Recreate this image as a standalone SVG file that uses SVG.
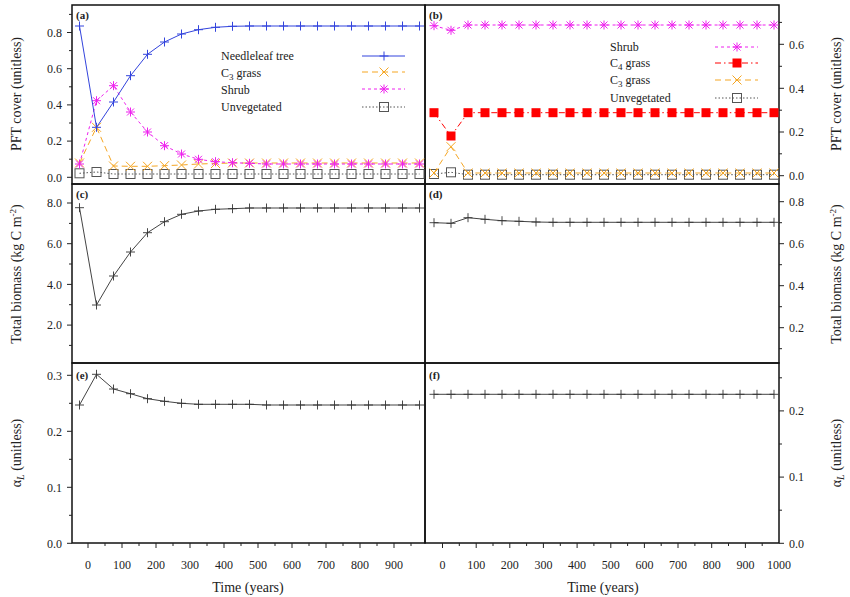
<svg xmlns="http://www.w3.org/2000/svg" width="850" height="597" viewBox="0 0 850 597" font-family="'Liberation Serif', 'Times New Roman', serif">
<style>
text{font-family:'Liberation Serif','Times New Roman',serif;fill:#222}
.tl{font-size:12px}
.ti{font-size:14px}
.pl{font-size:11px;font-weight:bold}
.fr{fill:none;stroke:#111;stroke-width:1.5}
.tk{stroke:#222;stroke-width:1}
.k{fill:none;stroke:#444;stroke-width:1}
.nl{fill:none;stroke:#3344dd;stroke-width:1}
.c3{fill:none;stroke:#f5a623;stroke-width:1;stroke-dasharray:6 4}
.sh{fill:none;stroke:#ee22ee;stroke-width:1;stroke-dasharray:3 3}
.uv{fill:none;stroke:#555;stroke-width:1;stroke-dasharray:1.5 2}
.c4{fill:none;stroke:#ff0000;stroke-width:1;stroke-dasharray:6 3 1.5 3}
</style>
<defs>
<path id="pk" d="M-4.5,0H4.5M0,-4.5V4.5" stroke="#333" stroke-width="0.9" fill="none"/>
<path id="pb" d="M-4.5,0H4.5M0,-4.5V4.5" stroke="#3344dd" stroke-width="1" fill="none"/>
<path id="xo" d="M-4.5,-4.5L4.5,4.5M-4.5,4.5L4.5,-4.5" stroke="#f5a623" stroke-width="1" fill="none"/>
<path id="st" d="M-4.5,0H4.5M0,-4.5V4.5M-3.5,-3.5L3.5,3.5M-3.5,3.5L3.5,-3.5" stroke="#ee22ee" stroke-width="1" fill="none"/>
<rect id="sq" x="-4.5" y="-4.5" width="9" height="9" stroke="#555" stroke-width="1" fill="none"/>
<rect id="rs" x="-4.5" y="-4.5" width="9" height="9" fill="#ff0000"/>
</defs>
<rect width="850" height="597" fill="#fff"/>

<g id="frames">
<rect class="fr" x="72" y="5" width="353" height="179"/>
<rect class="fr" x="425" y="5" width="354" height="179"/>
<rect class="fr" x="72" y="184" width="353" height="179"/>
<rect class="fr" x="425" y="184" width="354" height="179"/>
<rect class="fr" x="72" y="363" width="353" height="180"/>
<rect class="fr" x="425" y="363" width="354" height="180"/>
</g>

<g id="ticks" class="tk">
<path d="M67,177.3H72M69,159.2H72M67,141.1H72M69,123H72M67,104.9H72M69,86.8H72M67,68.7H72M69,50.6H72M67,32.5H72M69,14.4H72"/>
<path d="M779,175.7H784M779,153.8H782M779,132H784M779,110.2H782M779,88.3H784M779,66.3H782M779,44.3H784M779,22.4H782"/>
<path d="M67,203H72M69,223.4H72M67,243.7H72M69,264H72M67,284.4H72M69,304.7H72M67,325.1H72M69,345.4H72"/>
<path d="M779,201.7H784M779,222.7H782M779,243.7H784M779,264.7H782M779,285.7H784M779,306.7H782M779,327.7H784M779,348.7H782"/>
<path d="M67,543.3H72M69,515.3H72M67,487.3H72M69,459.3H72M67,431.3H72M69,403.3H72M67,375.3H72"/>
<path d="M779,543.3H784M779,510.2H782M779,477.1H784M779,444H782M779,410.9H784M779,377.8H782"/>
<path d="M88,543V548M105,543V546M122,543V548M139,543V546M156,543V548M173,543V546M190,543V548M207,543V546M224,543V548M241,543V546M258,543V548M275,543V546M292,543V548M309,543V546M326,543V548M343,543V546M360,543V548M377,543V546M394,543V548M411,543V546"/>
<path d="M442.5,543V548M459.3,543V546M476.2,543V548M493,543V546M509.8,543V548M526.6,543V546M543.4,543V548M560.3,543V546M577.1,543V548M593.9,543V546M610.8,543V548M627.6,543V546M644.4,543V548M661.2,543V546M678,543V548M694.9,543V546M711.7,543V548M728.5,543V546M745.4,543V548M762.2,543V546"/>
</g>

<g id="tick-labels" class="tl">
<g text-anchor="end">
<text x="62" y="181.5">0.0</text><text x="62" y="145.3">0.2</text><text x="62" y="109.1">0.4</text><text x="62" y="72.9">0.6</text><text x="62" y="36.7">0.8</text>
<text x="62" y="207.2">8.0</text><text x="62" y="247.9">6.0</text><text x="62" y="288.6">4.0</text><text x="62" y="329.3">2.0</text>
<text x="62" y="547.5">0.0</text><text x="62" y="491.5">0.1</text><text x="62" y="435.5">0.2</text><text x="62" y="379.5">0.3</text>
</g>
<g text-anchor="start">
<text x="789" y="179.9">0.0</text><text x="789" y="136.2">0.2</text><text x="789" y="92.5">0.4</text><text x="789" y="48.5">0.6</text>
<text x="789" y="205.9">0.8</text><text x="789" y="247.9">0.6</text><text x="789" y="289.9">0.4</text><text x="789" y="331.9">0.2</text>
<text x="789" y="547.5">0.0</text><text x="789" y="481.3">0.1</text><text x="789" y="415.1">0.2</text>
</g>
<g text-anchor="middle">
<text x="88" y="569">0</text><text x="122" y="569">100</text><text x="156" y="569">200</text><text x="190" y="569">300</text><text x="224" y="569">400</text><text x="258" y="569">500</text><text x="292" y="569">600</text><text x="326" y="569">700</text><text x="360" y="569">800</text><text x="394" y="569">900</text>
<text x="442.5" y="569">0</text><text x="476.2" y="569">100</text><text x="509.8" y="569">200</text><text x="543.4" y="569">300</text><text x="577.1" y="569">400</text><text x="610.8" y="569">500</text><text x="644.4" y="569">600</text><text x="678" y="569">700</text><text x="711.7" y="569">800</text><text x="745.4" y="569">900</text><text x="779" y="569">1000</text>
</g>
</g>

<g id="axis-titles" class="ti" text-anchor="middle">
<text x="248" y="592">Time (years)</text>
<text x="603" y="592">Time (years)</text>
<text transform="translate(21,94) rotate(-90)">PFT cover (unitless)</text>
<text transform="translate(841,94) rotate(-90)">PFT cover (unitless)</text>
<text transform="translate(21,274) rotate(-90)">Total biomass (kg C m<tspan dy="-5" font-size="9">-2</tspan><tspan dy="5">)</tspan></text>
<text transform="translate(841,274) rotate(-90)">Total biomass (kg C m<tspan dy="-5" font-size="9">-2</tspan><tspan dy="5">)</tspan></text>
<text transform="translate(21,453) rotate(-90)">α<tspan dy="3" font-size="10" font-style="italic">L</tspan><tspan dy="-3"> (unitless)</tspan></text>
<text transform="translate(841,453) rotate(-90)">α<tspan dy="3" font-size="10" font-style="italic">L</tspan><tspan dy="-3"> (unitless)</tspan></text>
</g>

<g id="panel-labels" class="pl">
<text x="76" y="19">(a)</text><text x="429" y="19">(b)</text>
<text x="76" y="198">(c)</text><text x="429" y="198">(d)</text>
<text x="76" y="379">(e)</text><text x="429" y="379">(f)</text>
</g>

<g id="panel-a">
<polyline class="uv" points="79.5,173.3 96.5,172 113.5,174 130.5,174 147.5,174 164.5,174 181.5,174 198.5,174 215.5,174 232.5,174 249.5,174 266.5,174 283.5,174 300.5,174 317.5,174 334.5,174 351.5,174 368.5,174 385.5,174 402.5,174 419.5,174"/>
<g><use href="#sq" x="79.5" y="173.3"/><use href="#sq" x="96.5" y="172"/><use href="#sq" x="113.5" y="174"/><use href="#sq" x="130.5" y="174"/><use href="#sq" x="147.5" y="174"/><use href="#sq" x="164.5" y="174"/><use href="#sq" x="181.5" y="174"/><use href="#sq" x="198.5" y="174"/><use href="#sq" x="215.5" y="174"/><use href="#sq" x="232.5" y="174"/><use href="#sq" x="249.5" y="174"/><use href="#sq" x="266.5" y="174"/><use href="#sq" x="283.5" y="174"/><use href="#sq" x="300.5" y="174"/><use href="#sq" x="317.5" y="174"/><use href="#sq" x="334.5" y="174"/><use href="#sq" x="351.5" y="174"/><use href="#sq" x="368.5" y="174"/><use href="#sq" x="385.5" y="174"/><use href="#sq" x="402.5" y="174"/><use href="#sq" x="419.5" y="174"/></g>
<polyline class="c3" points="79.5,163 96.5,127.3 113.5,166 130.5,166.3 147.5,166.3 164.5,165.7 181.5,165 198.5,164 215.5,163.5 232.5,163 249.5,163 266.5,163 283.5,163 300.5,163 317.5,163 334.5,163 351.5,163 368.5,163 385.5,163 402.5,163 419.5,163"/>
<g><use href="#xo" x="79.5" y="163"/><use href="#xo" x="96.5" y="127.3"/><use href="#xo" x="113.5" y="166"/><use href="#xo" x="130.5" y="166.3"/><use href="#xo" x="147.5" y="166.3"/><use href="#xo" x="164.5" y="165.7"/><use href="#xo" x="181.5" y="165"/><use href="#xo" x="198.5" y="164"/><use href="#xo" x="215.5" y="163.5"/><use href="#xo" x="232.5" y="163"/><use href="#xo" x="249.5" y="163"/><use href="#xo" x="266.5" y="163"/><use href="#xo" x="283.5" y="163"/><use href="#xo" x="300.5" y="163"/><use href="#xo" x="317.5" y="163"/><use href="#xo" x="334.5" y="163"/><use href="#xo" x="351.5" y="163"/><use href="#xo" x="368.5" y="163"/><use href="#xo" x="385.5" y="163"/><use href="#xo" x="402.5" y="163"/><use href="#xo" x="419.5" y="163"/></g>
<polyline class="sh" points="79.5,164 96.5,100.7 113.5,85.7 130.5,112 147.5,132 164.5,145.7 181.5,154 198.5,159.3 215.5,161.7 232.5,162.7 249.5,163.3 266.5,164 283.5,164 300.5,164 317.5,164 334.5,164 351.5,164 368.5,164 385.5,164 402.5,164 419.5,164"/>
<g><use href="#st" x="79.5" y="164"/><use href="#st" x="96.5" y="100.7"/><use href="#st" x="113.5" y="85.7"/><use href="#st" x="130.5" y="112"/><use href="#st" x="147.5" y="132"/><use href="#st" x="164.5" y="145.7"/><use href="#st" x="181.5" y="154"/><use href="#st" x="198.5" y="159.3"/><use href="#st" x="215.5" y="161.7"/><use href="#st" x="232.5" y="162.7"/><use href="#st" x="249.5" y="163.3"/><use href="#st" x="266.5" y="164"/><use href="#st" x="283.5" y="164"/><use href="#st" x="300.5" y="164"/><use href="#st" x="317.5" y="164"/><use href="#st" x="334.5" y="164"/><use href="#st" x="351.5" y="164"/><use href="#st" x="368.5" y="164"/><use href="#st" x="385.5" y="164"/><use href="#st" x="402.5" y="164"/><use href="#st" x="419.5" y="164"/></g>
<polyline class="nl" points="79.5,26 96.5,127.3 113.5,102 130.5,75.7 147.5,54.3 164.5,42 181.5,34 198.5,29.7 215.5,27.3 232.5,26.3 249.5,26 266.5,26 283.5,26 300.5,26 317.5,26 334.5,26 351.5,26 368.5,26 385.5,26 402.5,26 419.5,26"/>
<g><use href="#pb" x="79.5" y="26"/><use href="#pb" x="96.5" y="127.3"/><use href="#pb" x="113.5" y="102"/><use href="#pb" x="130.5" y="75.7"/><use href="#pb" x="147.5" y="54.3"/><use href="#pb" x="164.5" y="42"/><use href="#pb" x="181.5" y="34"/><use href="#pb" x="198.5" y="29.7"/><use href="#pb" x="215.5" y="27.3"/><use href="#pb" x="232.5" y="26.3"/><use href="#pb" x="249.5" y="26"/><use href="#pb" x="266.5" y="26"/><use href="#pb" x="283.5" y="26"/><use href="#pb" x="300.5" y="26"/><use href="#pb" x="317.5" y="26"/><use href="#pb" x="334.5" y="26"/><use href="#pb" x="351.5" y="26"/><use href="#pb" x="368.5" y="26"/><use href="#pb" x="385.5" y="26"/><use href="#pb" x="402.5" y="26"/><use href="#pb" x="419.5" y="26"/></g>
<g id="legend-a" class="tl">
<text x="221" y="60">Needleleaf tree</text>
<text x="221" y="77">C<tspan dy="3" font-size="9">3</tspan><tspan dy="-3"> grass</tspan></text>
<text x="221" y="94">Shrub</text>
<text x="221" y="111">Unvegetated</text>
<line class="nl" x1="362" y1="56" x2="405" y2="56"/><use href="#pb" x="384" y="56"/>
<line class="c3" x1="362" y1="72" x2="405" y2="72"/><use href="#xo" x="384" y="72"/>
<line class="sh" x1="362" y1="89" x2="405" y2="89"/><use href="#st" x="384" y="89"/>
<line class="uv" x1="362" y1="107" x2="405" y2="107"/><use href="#sq" x="384" y="107"/>
</g>
</g>

<g id="panel-b">
<polyline class="uv" points="434,174 451,172.3 468,174.7 485,174.7 502,174.7 519,174.7 536,174.7 553,174.7 570,174.7 587,174.7 604,174.7 621,174.7 638,174.7 655,174.7 672,174.7 689,174.7 706,174.7 723,174.7 740,174.7 757,174.7 774,174.7"/>
<g><use href="#sq" x="434" y="174"/><use href="#sq" x="451" y="172.3"/><use href="#sq" x="468" y="174.7"/><use href="#sq" x="485" y="174.7"/><use href="#sq" x="502" y="174.7"/><use href="#sq" x="519" y="174.7"/><use href="#sq" x="536" y="174.7"/><use href="#sq" x="553" y="174.7"/><use href="#sq" x="570" y="174.7"/><use href="#sq" x="587" y="174.7"/><use href="#sq" x="604" y="174.7"/><use href="#sq" x="621" y="174.7"/><use href="#sq" x="638" y="174.7"/><use href="#sq" x="655" y="174.7"/><use href="#sq" x="672" y="174.7"/><use href="#sq" x="689" y="174.7"/><use href="#sq" x="706" y="174.7"/><use href="#sq" x="723" y="174.7"/><use href="#sq" x="740" y="174.7"/><use href="#sq" x="757" y="174.7"/><use href="#sq" x="774" y="174.7"/></g>
<polyline class="c3" points="434,173 451,146.7 468,173 485,173 502,173 519,173 536,173 553,173 570,173 587,173 604,173 621,173 638,173 655,173 672,173 689,173 706,173 723,173 740,173 757,173 774,173"/>
<g><use href="#xo" x="434" y="173"/><use href="#xo" x="451" y="146.7"/><use href="#xo" x="468" y="173"/><use href="#xo" x="485" y="173"/><use href="#xo" x="502" y="173"/><use href="#xo" x="519" y="173"/><use href="#xo" x="536" y="173"/><use href="#xo" x="553" y="173"/><use href="#xo" x="570" y="173"/><use href="#xo" x="587" y="173"/><use href="#xo" x="604" y="173"/><use href="#xo" x="621" y="173"/><use href="#xo" x="638" y="173"/><use href="#xo" x="655" y="173"/><use href="#xo" x="672" y="173"/><use href="#xo" x="689" y="173"/><use href="#xo" x="706" y="173"/><use href="#xo" x="723" y="173"/><use href="#xo" x="740" y="173"/><use href="#xo" x="757" y="173"/><use href="#xo" x="774" y="173"/></g>
<polyline class="c4" points="434,112.7 451,136 468,112.7 485,112.7 502,112.7 519,112.7 536,112.7 553,112.7 570,112.7 587,112.7 604,112.7 621,112.7 638,112.7 655,112.7 672,112.7 689,112.7 706,112.7 723,112.7 740,112.7 757,112.7 774,112.7"/>
<g><use href="#rs" x="434" y="112.7"/><use href="#rs" x="451" y="136"/><use href="#rs" x="468" y="112.7"/><use href="#rs" x="485" y="112.7"/><use href="#rs" x="502" y="112.7"/><use href="#rs" x="519" y="112.7"/><use href="#rs" x="536" y="112.7"/><use href="#rs" x="553" y="112.7"/><use href="#rs" x="570" y="112.7"/><use href="#rs" x="587" y="112.7"/><use href="#rs" x="604" y="112.7"/><use href="#rs" x="621" y="112.7"/><use href="#rs" x="638" y="112.7"/><use href="#rs" x="655" y="112.7"/><use href="#rs" x="672" y="112.7"/><use href="#rs" x="689" y="112.7"/><use href="#rs" x="706" y="112.7"/><use href="#rs" x="723" y="112.7"/><use href="#rs" x="740" y="112.7"/><use href="#rs" x="757" y="112.7"/><use href="#rs" x="774" y="112.7"/></g>
<polyline class="sh" points="434,25.7 451,30.3 468,25 485,25 502,25 519,25 536,25 553,25 570,25 587,25 604,25 621,25 638,25 655,25 672,25 689,25 706,25 723,25 740,25 757,25 774,25"/>
<g><use href="#st" x="434" y="25.7"/><use href="#st" x="451" y="30.3"/><use href="#st" x="468" y="25"/><use href="#st" x="485" y="25"/><use href="#st" x="502" y="25"/><use href="#st" x="519" y="25"/><use href="#st" x="536" y="25"/><use href="#st" x="553" y="25"/><use href="#st" x="570" y="25"/><use href="#st" x="587" y="25"/><use href="#st" x="604" y="25"/><use href="#st" x="621" y="25"/><use href="#st" x="638" y="25"/><use href="#st" x="655" y="25"/><use href="#st" x="672" y="25"/><use href="#st" x="689" y="25"/><use href="#st" x="706" y="25"/><use href="#st" x="723" y="25"/><use href="#st" x="740" y="25"/><use href="#st" x="757" y="25"/><use href="#st" x="774" y="25"/></g>
<g id="legend-b" class="tl">
<text x="610" y="51">Shrub</text>
<text x="610" y="67">C<tspan dy="3" font-size="9">4</tspan><tspan dy="-3"> grass</tspan></text>
<text x="610" y="84">C<tspan dy="3" font-size="9">3</tspan><tspan dy="-3"> grass</tspan></text>
<text x="610" y="102">Unvegetated</text>
<line class="sh" x1="715" y1="47" x2="758" y2="47"/><use href="#st" x="737" y="47"/>
<line class="c4" x1="715" y1="63" x2="758" y2="63"/><use href="#rs" x="737" y="63"/>
<line class="c3" x1="715" y1="80" x2="758" y2="80"/><use href="#xo" x="737" y="80"/>
<line class="uv" x1="715" y1="98" x2="758" y2="98"/><use href="#sq" x="737" y="98"/>
</g>
</g>

<g id="panel-c">
<polyline class="k" points="79.5,207.7 96.5,305 113.5,276 130.5,252 147.5,232.7 164.5,221.7 181.5,214.3 198.5,211 215.5,209.3 232.5,208.7 249.5,208 266.5,208 283.5,208 300.5,208 317.5,208 334.5,208 351.5,208 368.5,208 385.5,208 402.5,208 419.5,208"/>
<g><use href="#pk" x="79.5" y="207.7"/><use href="#pk" x="96.5" y="305"/><use href="#pk" x="113.5" y="276"/><use href="#pk" x="130.5" y="252"/><use href="#pk" x="147.5" y="232.7"/><use href="#pk" x="164.5" y="221.7"/><use href="#pk" x="181.5" y="214.3"/><use href="#pk" x="198.5" y="211"/><use href="#pk" x="215.5" y="209.3"/><use href="#pk" x="232.5" y="208.7"/><use href="#pk" x="249.5" y="208"/><use href="#pk" x="266.5" y="208"/><use href="#pk" x="283.5" y="208"/><use href="#pk" x="300.5" y="208"/><use href="#pk" x="317.5" y="208"/><use href="#pk" x="334.5" y="208"/><use href="#pk" x="351.5" y="208"/><use href="#pk" x="368.5" y="208"/><use href="#pk" x="385.5" y="208"/><use href="#pk" x="402.5" y="208"/><use href="#pk" x="419.5" y="208"/></g>
</g>

<g id="panel-d">
<polyline class="k" points="434,222.7 451,223.3 468,217.7 485,219.3 502,220.7 519,221.3 536,222 553,222.3 570,222.3 587,222.3 604,222.3 621,222.3 638,222.3 655,222.3 672,222.3 689,222.3 706,222.3 723,222.3 740,222.3 757,222.3 774,222.3"/>
<g><use href="#pk" x="434" y="222.7"/><use href="#pk" x="451" y="223.3"/><use href="#pk" x="468" y="217.7"/><use href="#pk" x="485" y="219.3"/><use href="#pk" x="502" y="220.7"/><use href="#pk" x="519" y="221.3"/><use href="#pk" x="536" y="222"/><use href="#pk" x="553" y="222.3"/><use href="#pk" x="570" y="222.3"/><use href="#pk" x="587" y="222.3"/><use href="#pk" x="604" y="222.3"/><use href="#pk" x="621" y="222.3"/><use href="#pk" x="638" y="222.3"/><use href="#pk" x="655" y="222.3"/><use href="#pk" x="672" y="222.3"/><use href="#pk" x="689" y="222.3"/><use href="#pk" x="706" y="222.3"/><use href="#pk" x="723" y="222.3"/><use href="#pk" x="740" y="222.3"/><use href="#pk" x="757" y="222.3"/><use href="#pk" x="774" y="222.3"/></g>
</g>

<g id="panel-e">
<polyline class="k" points="79.5,405 96.5,374.3 113.5,389 130.5,393.7 147.5,398.7 164.5,401.3 181.5,403.3 198.5,404.3 215.5,404.3 232.5,404.3 249.5,404.3 266.5,405 283.5,405 300.5,405 317.5,405 334.5,405 351.5,405 368.5,405 385.5,405 402.5,405 419.5,405"/>
<g><use href="#pk" x="79.5" y="405"/><use href="#pk" x="96.5" y="374.3"/><use href="#pk" x="113.5" y="389"/><use href="#pk" x="130.5" y="393.7"/><use href="#pk" x="147.5" y="398.7"/><use href="#pk" x="164.5" y="401.3"/><use href="#pk" x="181.5" y="403.3"/><use href="#pk" x="198.5" y="404.3"/><use href="#pk" x="215.5" y="404.3"/><use href="#pk" x="232.5" y="404.3"/><use href="#pk" x="249.5" y="404.3"/><use href="#pk" x="266.5" y="405"/><use href="#pk" x="283.5" y="405"/><use href="#pk" x="300.5" y="405"/><use href="#pk" x="317.5" y="405"/><use href="#pk" x="334.5" y="405"/><use href="#pk" x="351.5" y="405"/><use href="#pk" x="368.5" y="405"/><use href="#pk" x="385.5" y="405"/><use href="#pk" x="402.5" y="405"/><use href="#pk" x="419.5" y="405"/></g>
</g>

<g id="panel-f">
<polyline class="k" points="434,394.3 774,394.3"/>
<g><use href="#pk" x="434" y="394.3"/><use href="#pk" x="451" y="394.3"/><use href="#pk" x="468" y="394.3"/><use href="#pk" x="485" y="394.3"/><use href="#pk" x="502" y="394.3"/><use href="#pk" x="519" y="394.3"/><use href="#pk" x="536" y="394.3"/><use href="#pk" x="553" y="394.3"/><use href="#pk" x="570" y="394.3"/><use href="#pk" x="587" y="394.3"/><use href="#pk" x="604" y="394.3"/><use href="#pk" x="621" y="394.3"/><use href="#pk" x="638" y="394.3"/><use href="#pk" x="655" y="394.3"/><use href="#pk" x="672" y="394.3"/><use href="#pk" x="689" y="394.3"/><use href="#pk" x="706" y="394.3"/><use href="#pk" x="723" y="394.3"/><use href="#pk" x="740" y="394.3"/><use href="#pk" x="757" y="394.3"/><use href="#pk" x="774" y="394.3"/></g>
</g>
</svg>
